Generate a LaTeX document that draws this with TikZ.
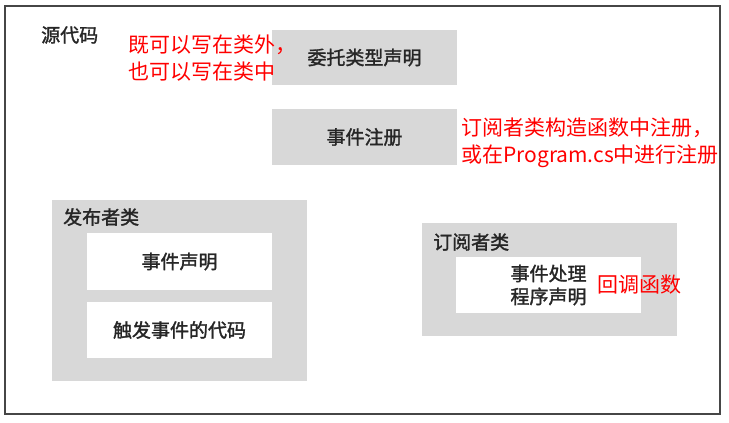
\documentclass[tikz,border=0pt]{standalone}
\usepackage{fontspec}
\setmainfont{Noto Sans CJK SC}
\newfontfamily\heavyfont[FakeBold=1.6]{Noto Sans CJK SC}
\definecolor{boxgray}{RGB}{216,216,216}
\definecolor{framegray}{RGB}{70,70,70}
\begin{document}
\begin{tikzpicture}[x=1pt,y=-1pt,
  every node/.style={font=\heavyfont\fontsize{19}{23}\selectfont,text=black!85,inner sep=0pt},
  graybox/.style={fill=boxgray,minimum width=185pt,minimum height=56pt},
  classbox/.style={fill=boxgray,minimum width=255pt},
  whitebox/.style={fill=white,minimum width=185pt,minimum height=56pt,align=center},
  note/.style={text=red,align=left,font=\normalfont\fontsize{21}{27}\selectfont}]
  \useasboundingbox (0,0) rectangle (729,423);
  \draw[framegray,line width=1.6pt] (5,6) rectangle (720,414);
  \node[anchor=west] (src) at (41,35) {源代码};
  % top boxes
  \node[graybox,minimum height=55pt] (deleg) at (364.5,57.5) {委托类型声明};
  \node[graybox] (reg) at (364.5,137) {事件注册};
  % publisher class
  \node[classbox,minimum height=181pt] (pub) at (179.5,290.5) {};
  \node[anchor=west] (publbl) at (63,217) {发布者类};
  \node[whitebox,minimum height=57pt] (pubdecl) at (179.5,261.5) {事件声明};
  \node[whitebox] (pubraise) at (179.5,330) {触发事件的代码};
  % subscriber class
  \node[classbox,minimum height=113pt] (sub) at (549.5,279.5) {};
  \node[anchor=west] (sublbl) at (433,242) {订阅者类};
  \node[whitebox] (handler) at (548.5,285) {事件处理\\程序声明};
  % red notes
  \node[note,anchor=west] (note1) at (128,58.5) {既可以写在类外，\\也可以写在类中};
  \node[note,anchor=west] (note2) at (461,142.5) {订阅者类构造函数中注册，\\或在Program.cs中进行注册};
  \node[note,anchor=west] (callback) at (597,285) {回调函数};
\end{tikzpicture}
\end{document}
